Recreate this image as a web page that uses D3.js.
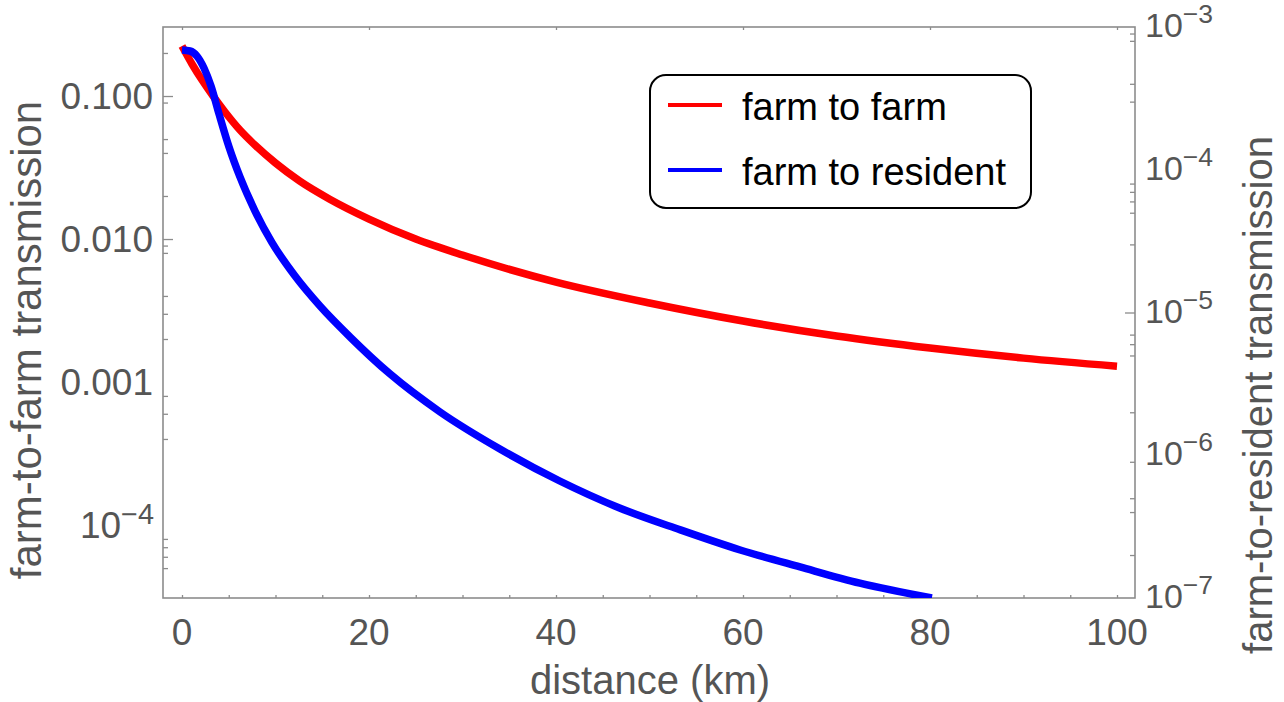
<!DOCTYPE html>
<html><head><meta charset="utf-8">
<script src="https://cdn.jsdelivr.net/npm/d3@7"></script>
<style>
html,body{margin:0;padding:0;background:#fff;}
svg{display:block;font-family:"Liberation Sans",Arial,sans-serif;}
</style></head>
<body>
<svg id="chart" width="1284" height="702"></svg>
<script>
// ---- data ----
const farmDist = [0, 1.07, 2.14, 3.32, 4.6, 6.2, 7.8, 10, 12.6, 15.8, 20, 25, 30, 40, 50, 60, 70, 80, 90, 100];
const farmToFarm = [0.2238, 0.1675, 0.1294, 0.1, 0.0773, 0.0578, 0.0454, 0.034, 0.0254, 0.019, 0.0138, 0.01, 0.00773, 0.005, 0.00357, 0.00267, 0.0021, 0.00173, 0.00147, 0.00129];
const resDist = [0, 0.86, 1.6, 2.35, 3.1, 3.96, 5.03, 6.2, 7.81, 9.63, 12.09, 14.76, 17.97, 22.25, 27.6, 34.0, 40.4, 46.8, 53.3, 59.7, 66.1, 72.5, 80.2];
const farmToResident = [6.9e-4, 6.79e-4, 6.26e-4, 5.16e-4, 3.86e-4, 2.46e-4, 1.443e-4, 8.9e-5, 5.14e-5, 3.09e-5, 1.8e-5, 1.11e-5, 6.74e-6, 3.71e-6, 2.01e-6, 1.106e-6, 6.6e-7, 4.27e-7, 3.0e-7, 2.17e-7, 1.65e-7, 1.27e-7, 1.0e-7];
const seriesNames = ["farm to farm", "farm to resident"];
const seriesColors = ["#ff0000", "#0000ff"];
const xTicks = [0, 20, 40, 60, 80, 100];
const xMinorTicks = d3.range(0, 101, 5);
const leftTickValues = [0.1, 0.01, 0.001, 1e-4];
const leftTickLabels = ["0.100", "0.010", "0.001", "10|−4"];
const leftMajorMarks = [0.1, 0.01];
const leftMinorMarks = [0.2, 0.09, 0.05, 0.04, 0.02, 0.009, 0.008, 0.004, 0.003, 0.002, 0.0008, 0.0006, 0.0004, 8e-5, 7e-5, 6e-5, 5e-5];
const rightTickValues = [1e-3, 1e-4, 1e-5, 1e-6, 1e-7];
const rightTickLabels = ["10|−3", "10|−4", "10|−5", "10|−6", "10|−7"];
const rightMajorMarks = [1e-5];
const rightMinorMarks = [9e-4, 8e-4, 4e-4, 3e-4, 8e-5, 7e-5, 6e-5, 5e-5, 3e-5, 7e-6, 6e-6, 5e-6, 2e-6, 9e-7, 5e-7, 4e-7, 2e-7];
const xTitle = "distance (km)";
const yLeftTitle = "farm-to-farm transmission";
const yRightTitle = "farm-to-resident transmission";

// ---- layout ----
const P = {l:163, r:1135, t:27, b:598};
const textCol = "#555555", frameCol = "#8c8c8c";
const svg = d3.select("#chart");

const x = d3.scaleLinear().domain([0, 100]).range([182, 1117]);
const yL = d3.scaleLog().domain([3.09e-5, 0.3038]).range([P.b, P.t]);
const yR = d3.scaleLog().domain([1e-7, 1e-3]).range([P.b, P.t]);

svg.append("defs").append("clipPath").attr("id","clip")
  .append("rect").attr("x",P.l).attr("y",P.t).attr("width",P.r-P.l).attr("height",P.b-P.t);

function tickAxis(axis, scale, vals, size, tx, ty){
  const g = svg.append("g").attr("transform",`translate(${tx},${ty})`)
    .call(axis(scale).tickValues(vals).tickSize(size).tickFormat(""));
  g.select(".domain").remove();
  g.selectAll(".tick line").attr("stroke",frameCol).attr("stroke-width",1.3);
  return g;
}
tickAxis(d3.axisRight, yL, leftMajorMarks, 10, P.l, 0);
tickAxis(d3.axisRight, yL, leftMinorMarks, 5, P.l, 0);
tickAxis(d3.axisLeft, yR, rightMajorMarks, 10, P.r, 0);
tickAxis(d3.axisLeft, yR, rightMinorMarks, 5, P.r, 0);
tickAxis(d3.axisTop, x, xMinorTicks, 3, 0, P.b);
tickAxis(d3.axisBottom, x, xTicks, 3, 0, P.t);

svg.append("rect").attr("x",P.l).attr("y",P.t).attr("width",P.r-P.l).attr("height",P.b-P.t)
  .attr("fill","none").attr("stroke",frameCol).attr("stroke-width",1.6);

const lineL = d3.line().x((d,i)=>x(farmDist[i])).y(d=>yL(d)).curve(d3.curveMonotoneX);
const lineR = d3.line().x((d,i)=>x(resDist[i])).y(d=>yR(d)).curve(d3.curveMonotoneX);
const plot = svg.append("g").attr("clip-path","url(#clip)");
plot.append("path").attr("d",lineL(farmToFarm)).attr("fill","none")
  .attr("stroke",seriesColors[0]).attr("stroke-width",7.5).attr("stroke-linejoin","round");
plot.append("path").attr("d",lineR(farmToResident)).attr("fill","none")
  .attr("stroke",seriesColors[1]).attr("stroke-width",7.5).attr("stroke-linejoin","round");

function powLabel(sel, lab, fs){
  const parts = lab.split("|");
  sel.append("tspan").text(parts[0]);
  if(parts.length>1){
    sel.append("tspan").attr("dy",-14).attr("font-size",fs*0.78).text(parts[1]);
  }
}
const tickFs = 37;
leftTickValues.forEach((v,i)=>{
  const t = svg.append("text").attr("x",153).attr("y",yL(v)+13).attr("text-anchor","end")
    .attr("fill",textCol).attr("font-size",tickFs);
  const lab = leftTickLabels[i];
  if(lab.includes("|")){ t.attr("x",154); powLabel(t, lab, tickFs); } else t.text(lab);
});
rightTickValues.forEach((v,i)=>{
  const t = svg.append("text").attr("x",1145).attr("y",yR(v)+10).attr("text-anchor","start")
    .attr("fill",textCol).attr("font-size",34);
  powLabel(t, rightTickLabels[i], 34);
});
xTicks.forEach(v=>{
  svg.append("text").attr("x",x(v)).attr("y",645).attr("text-anchor","middle")
    .attr("fill",textCol).attr("font-size",tickFs).text(v);
});

svg.append("text").attr("x",650).attr("y",694).attr("text-anchor","middle")
  .attr("fill",textCol).attr("font-size",40).text(xTitle);
svg.append("text").attr("transform","translate(41,340) rotate(-90)").attr("text-anchor","middle")
  .attr("fill",textCol).attr("font-size",42).text(yLeftTitle);
svg.append("text").attr("transform","translate(1272,395) rotate(-90)").attr("text-anchor","middle")
  .attr("fill",textCol).attr("font-size",40).text(yRightTitle);

const lg = svg.append("g");
lg.append("rect").attr("x",650).attr("y",75).attr("width",381).attr("height",133).attr("rx",16)
  .attr("fill","#fff").attr("stroke","#000").attr("stroke-width",2);
seriesNames.forEach((n,i)=>{
  const yy = 105 + i*65;
  lg.append("line").attr("x1",668).attr("x2",722).attr("y1",yy).attr("y2",yy)
    .attr("stroke",seriesColors[i]).attr("stroke-width",4);
  lg.append("text").attr("x",742).attr("y",yy+15).attr("fill","#000").attr("font-size",38).text(n);
});
</script>
</body></html>
